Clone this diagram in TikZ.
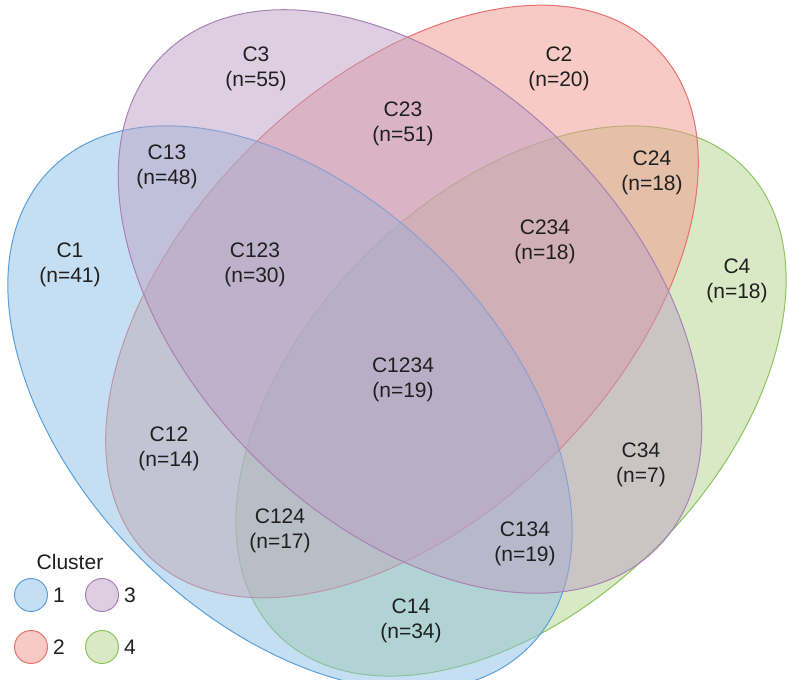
\documentclass[tikz,border=0pt]{standalone}
\usepackage{fontspec}
\setmainfont{Liberation Sans}
\usetikzlibrary{positioning}
\definecolor{setblue}{RGB}{140,190,228}
\definecolor{setred}{RGB}{242,150,140}
\definecolor{setpurple}{RGB}{188,160,196}
\definecolor{setgreen}{RGB}{180,212,140}
\definecolor{lineblue}{RGB}{90,160,220}
\definecolor{linered}{RGB}{232,112,110}
\definecolor{linepurple}{RGB}{168,130,180}
\definecolor{linegreen}{RGB}{140,196,92}
\begin{document}
\begin{tikzpicture}[x=1pt,y=1pt,
set/.style={fill opacity=0.5,line width=1pt},
region/.style={align=center,font=\fontsize{21}{25}\selectfont,text=black!88},
key/.style={circle,draw,fill opacity=0.5,minimum size=33pt,inner sep=0pt,line width=1pt},
keytext/.style={font=\fontsize{21}{25}\selectfont,text=black!88,inner sep=0pt}]
\useasboundingbox (0,0) rectangle (788,680);
\clip (0,0) rectangle (788,680);
% the four clusters
\filldraw[set,draw=linegreen,fill=setgreen,rotate around={45:(511,279)}] (511,279) ellipse [x radius=330,y radius=206];
\filldraw[set,draw=linered,fill=setred,rotate around={45:(402,378.5)}] (402,378.5) ellipse [x radius=359,y radius=216];
\filldraw[set,draw=lineblue,fill=setblue,rotate around={-45:(290,272)}] (290,272) ellipse [x radius=338,y radius=212];
\filldraw[set,draw=linepurple,fill=setpurple,rotate around={-45:(410,378.5)}] (410,378.5) ellipse [x radius=349,y radius=220];
% region counts
\node[region](c3) at (256,611){C3\\(n=55)};
\node[region](c2) at (559,611){C2\\(n=20)};
\node[region](c23) at (403,556){C23\\(n=51)};
\node[region](c13) at (167,513){C13\\(n=48)};
\node[region](c24) at (652,507){C24\\(n=18)};
\node[region](c1) at (70,415){C1\\(n=41)};
\node[region](c123) at (255,415){C123\\(n=30)};
\node[region](c234) at (545,438){C234\\(n=18)};
\node[region](c4) at (737,399){C4\\(n=18)};
\node[region](c1234) at (403,300){C1234\\(n=19)};
\node[region](c12) at (169,231){C12\\(n=14)};
\node[region](c34) at (641,215){C34\\(n=7)};
\node[region](c124) at (280,149){C124\\(n=17)};
\node[region](c134) at (525,136){C134\\(n=19)};
\node[region](c14) at (411,59){C14\\(n=34)};
% legend
\node[region](cluster) at (70,118){Cluster};
\node[key,draw=lineblue,fill=setblue](key1) at (31,85){};
\node[key,draw=linepurple,fill=setpurple](key3) at (102,85){};
\node[key,draw=linered,fill=setred](key2) at (31,33){};
\node[key,draw=linegreen,fill=setgreen](key4) at (102,33){};
\node[keytext,right=5pt of key1](num1){1};
\node[keytext,right=5pt of key3](num3){3};
\node[keytext,right=5pt of key2](num2){2};
\node[keytext,right=5pt of key4](num4){4};
\end{tikzpicture}
\end{document}
